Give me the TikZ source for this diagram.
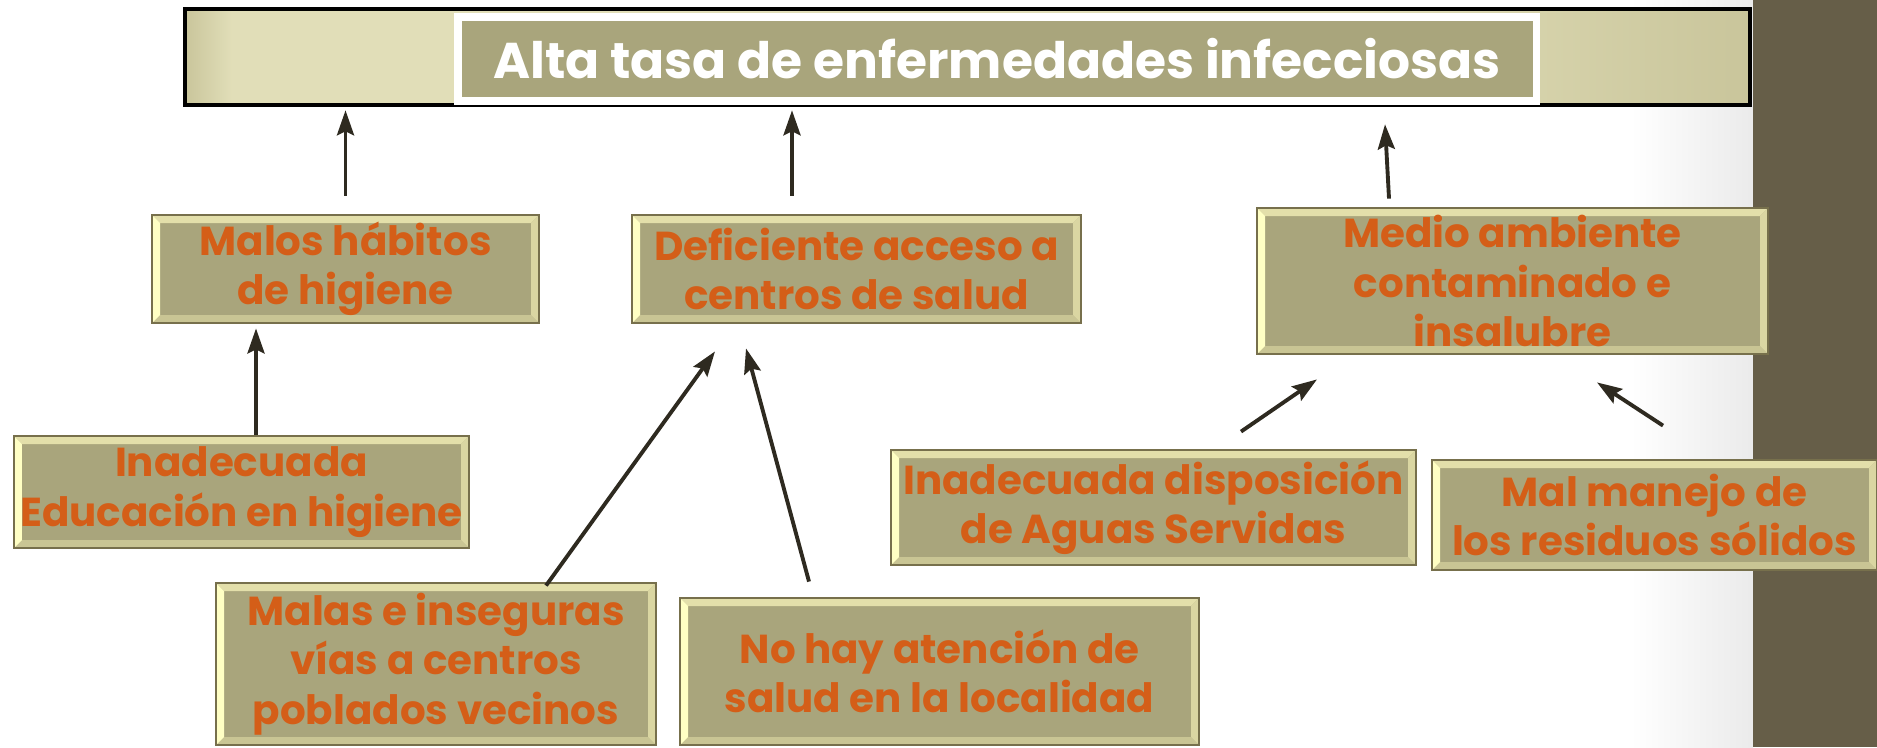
\documentclass[tikz,border=0pt]{standalone}
\usepackage{xcolor}
\usepackage{fontspec}
\setmainfont{Poppins}
\usetikzlibrary{positioning, calc, arrows.meta}

\definecolor{boxfill}{HTML}{A9A57C}
\definecolor{boxedge}{HTML}{77704C}
\definecolor{bevtop}{HTML}{E3DFAA}
\definecolor{bevleft}{HTML}{FFFFC4}
\definecolor{bevright}{HTML}{DAD6A2}
\definecolor{bevbottom}{HTML}{C9C594}
\definecolor{causetext}{HTML}{D45E18}
\definecolor{bannerdark}{HTML}{C9C59B}
\definecolor{bannerlight}{HTML}{E1DEB8}
\definecolor{strip}{HTML}{665E48}
\definecolor{arrowcol}{HTML}{2E2A20}

\pgfdeclarehorizontalshading{bannershade}{100bp}{color(0bp)=(bannerdark);
  color(25bp)=(bannerdark); color(26.5bp)=(bannerlight); color(62bp)=(bannerlight);
  color(75bp)=(bannerdark); color(100bp)=(bannerdark)}

\newcommand{\bevelw}{0.08cm}

\tikzset{
  causa/.style={draw=boxedge, line width=0.8pt, fill=boxfill, align=center,
    text=causetext, inner sep=0pt,
    font=\bfseries\fontsize{11.5}{14}\selectfont,
    path picture={
      \def\pb{path picture bounding box}
      \fill[bevtop] (\pb.north west) -- (\pb.north east)
        -- ([xshift=-\bevelw,yshift=-\bevelw]\pb.north east)
        -- ([xshift=\bevelw,yshift=-\bevelw]\pb.north west) -- cycle;
      \fill[bevbottom] (\pb.south west) -- (\pb.south east)
        -- ([xshift=-\bevelw,yshift=\bevelw]\pb.south east)
        -- ([xshift=\bevelw,yshift=\bevelw]\pb.south west) -- cycle;
      \fill[bevleft] (\pb.north west) -- (\pb.south west)
        -- ([xshift=\bevelw,yshift=\bevelw]\pb.south west)
        -- ([xshift=\bevelw,yshift=-\bevelw]\pb.north west) -- cycle;
      \fill[bevright] (\pb.north east) -- (\pb.south east)
        -- ([xshift=-\bevelw,yshift=\bevelw]\pb.south east)
        -- ([xshift=-\bevelw,yshift=-\bevelw]\pb.north east) -- cycle;
    }},
  flecha/.style={draw=arrowcol, line width=1.1pt,
    -{Stealth[length=0.25cm, width=0.17cm, inset=0.04cm]}},
}

\begin{document}
\begin{tikzpicture}
\useasboundingbox (0,0) rectangle (18.77,7.47);
% fondo
\shade[left color=white, right color=black!8] (16.3,0) rectangle (17.53,7.47);
\fill[strip] (17.53,0) rectangle (18.77,7.47);

% franja superior
\node[draw=black, line width=1.3pt, minimum width=15.65cm, minimum height=0.96cm,
  shading=bannershade]
  (banner) at (9.675,6.90) {};
\node[draw=white, line width=2pt, fill=boxfill, minimum width=10.78cm,
  minimum height=0.84cm, text=white, font=\bfseries\fontsize{14.3}{17}\selectfont]
  (efecto) at (9.97,6.88) {Alta tasa de enfermedades infecciosas};

% causas directas
\node[causa, minimum width=3.87cm, minimum height=1.08cm] (malos) at (3.455,4.78)
  {Malos hábitos\\de higiene};
\node[causa, minimum width=4.49cm, minimum height=1.08cm] (defi) at (8.565,4.78)
  {Deficiente acceso a\\centros de salud};
\node[causa, minimum width=5.11cm, minimum height=1.46cm] (medio) at (15.125,4.66)
  {Medio ambiente\\contaminado e\\insalubre};

% causas indirectas
\node[causa, minimum width=4.55cm, minimum height=1.12cm] (educ) at (2.415,2.55)
  {Inadecuada\\Educación en higiene};
\node[causa, minimum width=4.40cm, minimum height=1.62cm] (vias) at (4.36,0.83)
  {Malas e inseguras\\vías a centros\\poblados vecinos};
\node[causa, minimum width=5.19cm, minimum height=1.47cm] (atencion) at (9.395,0.755)
  {No hay atención de\\salud en la localidad};
\node[causa, minimum width=5.25cm, minimum height=1.15cm] (aguas) at (11.535,2.395)
  {Inadecuada disposición\\de Aguas Servidas};
\node[causa, minimum width=4.45cm, minimum height=1.10cm] (residuos) at (16.545,2.32)
  {Mal manejo de\\los residuos sólidos};

% flechas
\draw[flecha] ([yshift=0.18cm]malos.north) -- ([yshift=-0.03cm]malos.north |- banner.south);
\draw[flecha] ([xshift=-0.645cm,yshift=0.18cm]defi.north)
  -- ([xshift=-0.645cm,yshift=-0.03cm]defi.north |- banner.south);
\draw[flecha] ([xshift=-1.235cm,yshift=0.08cm]medio.north)
  -- ([xshift=-1.275cm,yshift=-0.17cm]medio.north |- banner.south);
\draw[flecha] ([xshift=0.145cm]educ.north) -- ([xshift=-0.895cm,yshift=-0.04cm]malos.south);
\draw[flecha] ([xshift=1.10cm,yshift=-0.04cm]vias.north) -- ([xshift=-1.415cm,yshift=-0.27cm]defi.south);
\draw[flecha] ([xshift=-1.305cm,yshift=0.15cm]atencion.north) -- ([xshift=-1.105cm,yshift=-0.24cm]defi.south);
\draw[flecha] ([xshift=0.875cm,yshift=0.17cm]aguas.north) -- ([xshift=-1.955cm,yshift=-0.24cm]medio.south);
\draw[flecha] ([xshift=0.085cm,yshift=0.33cm]residuos.north) -- ([xshift=0.845cm,yshift=-0.27cm]medio.south);
\end{tikzpicture}
\end{document}
